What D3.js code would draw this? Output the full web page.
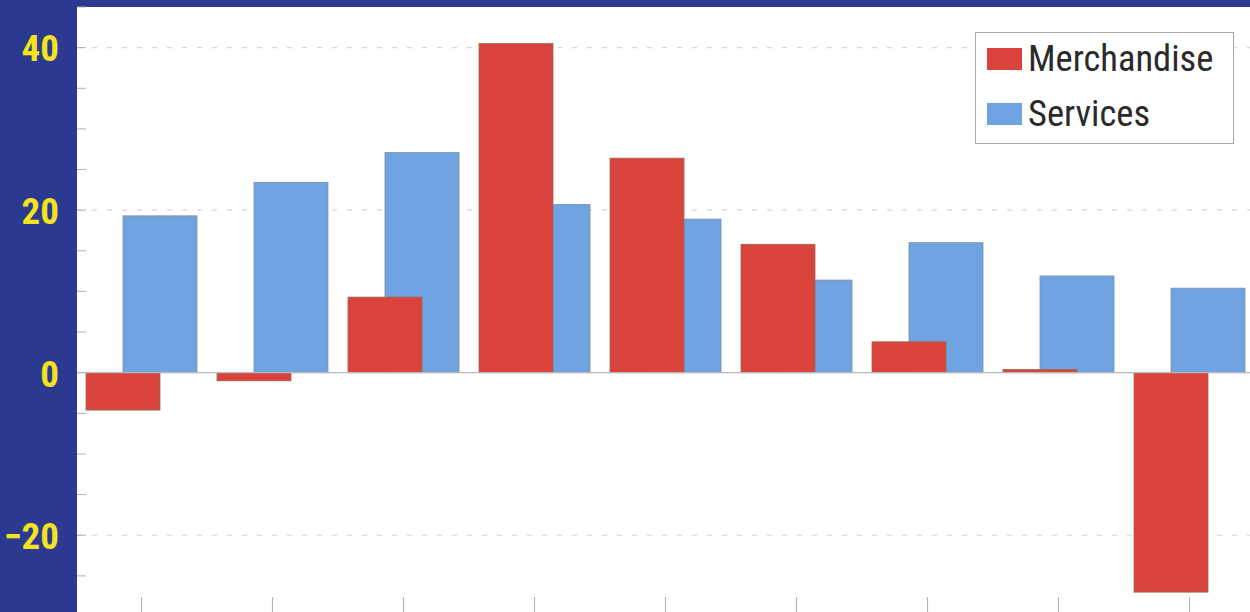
<!DOCTYPE html>
<html>
<head>
<meta charset="utf-8">
<script src="https://cdn.jsdelivr.net/npm/d3@7"></script>
<style>
  html, body { margin: 0; padding: 0; background: #2b3990; }
  svg { display: block; }
</style>
</head>
<body>
<svg id="chart" width="1250" height="612"></svg>
<script>
// ---- data ----
const categories = ["1", "2", "3", "4", "5", "6", "7", "8", "9"];
const merchandise = [-4.6, -1.0, 9.3, 40.5, 26.4, 15.8, 3.8, 0.4, -27.0];
const services = [19.3, 23.4, 27.1, 20.7, 18.9, 11.4, 16.0, 11.9, 10.4];
const seriesNames = ["Merchandise", "Services"];
const yTickValues = [40, 20, 0, -20];
const yMinorTicks = [45, 35, 30, 25, 15, 10, 5, -5, -10, -15, -25];

const W = 1250, H = 612;
const plotLeft = 77, plotTop = 7;
const svg = d3.select("#chart");

// background
svg.append("rect").attr("x", 0).attr("y", 0).attr("width", W).attr("height", H).attr("fill", "#2b3990");
svg.append("rect").attr("x", plotLeft).attr("y", plotTop).attr("width", W - plotLeft).attr("height", H - plotTop).attr("fill", "#ffffff");

const y = d3.scaleLinear().domain([-30, 45]).range([616.5, 7]);
const x = d3.scaleBand().domain(categories).range([76, 76 + 9 * 131]).paddingInner(0).paddingOuter(0);
const barW = 74;

const plot = svg.append("g");

// gridlines (dashed) for major ticks except 0
plot.selectAll(".grid").data(yTickValues.filter(v => v !== 0)).enter().append("line")
  .attr("x1", plotLeft).attr("x2", W)
  .attr("y1", d => y(d)).attr("y2", d => y(d))
  .attr("stroke", "#d6d6d6").attr("stroke-width", 1.2)
  .attr("stroke-dasharray", "5,10");

// minor ticks on left edge
plot.selectAll(".minor").data(yMinorTicks).enter().append("line")
  .attr("x1", plotLeft).attr("x2", plotLeft + 9)
  .attr("y1", d => y(d)).attr("y2", d => y(d))
  .attr("stroke", "#b0b0b0").attr("stroke-width", 1);
plot.selectAll(".major").data(yTickValues).enter().append("line")
  .attr("x1", plotLeft).attr("x2", plotLeft + 9)
  .attr("y1", d => y(d)).attr("y2", d => y(d))
  .attr("stroke", "#b0b0b0").attr("stroke-width", 1);

// x ticks at band centers
plot.selectAll(".xtick").data(categories).enter().append("line")
  .attr("x1", d => x(d) + x.bandwidth() / 2).attr("x2", d => x(d) + x.bandwidth() / 2)
  .attr("y1", 597).attr("y2", H)
  .attr("stroke", "#b5b5b5").attr("stroke-width", 1.2);

// bars: services first (behind), merchandise on top
plot.selectAll(".svc").data(categories).enter().append("rect")
  .attr("x", (d) => x(d) + 47)
  .attr("width", barW)
  .attr("y", (d, i) => Math.min(y(services[i]), y(0)))
  .attr("height", (d, i) => Math.abs(y(services[i]) - y(0)))
  .attr("fill", "#6fa3e2").attr("stroke", "#7b8fa8").attr("stroke-width", 0.8);

plot.selectAll(".mer").data(categories).enter().append("rect")
  .attr("x", (d) => x(d) + 10)
  .attr("width", barW)
  .attr("y", (d, i) => Math.min(y(merchandise[i]), y(0)))
  .attr("height", (d, i) => Math.abs(y(merchandise[i]) - y(0)))
  .attr("fill", "#d9433b").attr("stroke", "#9a6a55").attr("stroke-width", 0.8);

// zero line
plot.append("line").attr("x1", plotLeft).attr("x2", W)
  .attr("y1", y(0)).attr("y2", y(0))
  .attr("stroke", "#b8b8c0").attr("stroke-width", 1.2);

// y labels
const yAxis = d3.axisLeft(y).tickValues(yTickValues).tickSize(0).tickPadding(0);
const ag = svg.append("g").attr("transform", "translate(59,0)").call(yAxis);
ag.select(".domain").remove();
ag.selectAll("text")
  .attr("fill", "#f3e31c")
  .attr("font-family", "'Liberation Sans Narrow', 'Roboto Condensed', 'Arial Narrow', sans-serif")
  .attr("font-weight", "bold")
  .attr("font-size", 37)
  .attr("dy", "0.36em");

// legend
const lg = svg.append("g");
lg.append("rect").attr("x", 975.5).attr("y", 32.5).attr("width", 258).attr("height", 111)
  .attr("fill", "#ffffff").attr("stroke", "#a9a9a9").attr("stroke-width", 1);
const legColors = ["#d9433b", "#6fa3e2"];
seriesNames.forEach((name, i) => {
  const yy = 48 + i * 55;
  lg.append("rect").attr("x", 987).attr("y", yy).attr("width", 35).attr("height", 22)
    .attr("fill", legColors[i]);
  lg.append("text").attr("x", 1028).attr("y", yy + 23)
    .attr("font-family", "'Liberation Sans Narrow', 'Roboto Condensed', 'Arial Narrow', sans-serif")
    .attr("font-size", 36.5)
    .attr("fill", "#2a2a2a")
    .text(name);
});
</script>
</body>
</html>
